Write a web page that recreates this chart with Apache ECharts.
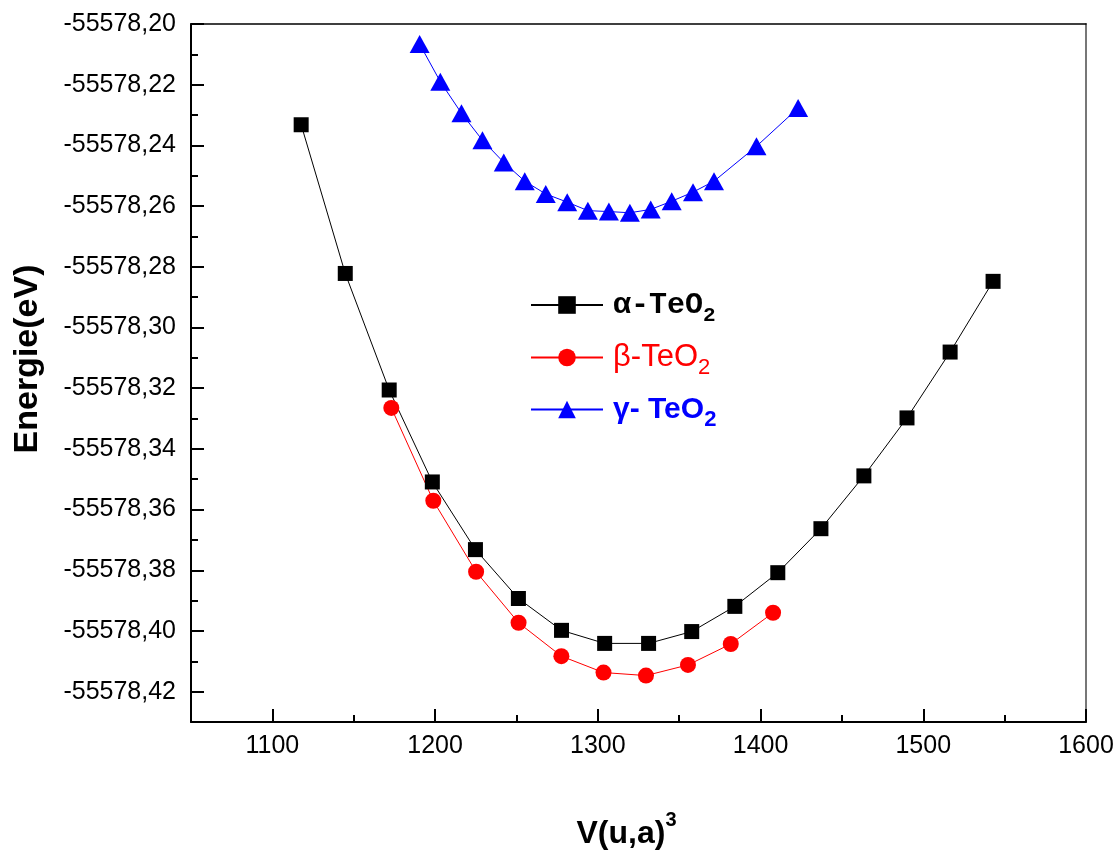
<!DOCTYPE html>
<html lang="en">
<head>
    <meta charset="UTF-8">
    <title>Energie vs V(u,a)3 - TeO2</title>
    <style>
        html, body { margin: 0; padding: 0; background: #fff; }
        #chart { width: 1120px; height: 855px; }
    </style>
</head>
<body>
<div id="chart"></div>
<script src="https://cdn.jsdelivr.net/npm/echarts@6/dist/echarts.min.js"></script>
<script>
    // alpha-TeO2
    const alphaV = [1117.7, 1144.8, 1171.8, 1198.3, 1224.8, 1251.2, 1277.7, 1304.2, 1331.2, 1357.7, 1384.2, 1410.6, 1437.1, 1463.5, 1490.0, 1516.5, 1542.9];
    const alphaE = [-55578.2332, -55578.2822, -55578.3206, -55578.3509, -55578.3732, -55578.3893, -55578.3998, -55578.4041, -55578.4041, -55578.4002, -55578.3919, -55578.3808, -55578.3663, -55578.3489, -55578.3298, -55578.3081, -55578.2848];

    // beta-TeO2
    const betaV = [1173.1, 1198.9, 1225.2, 1251.3, 1277.6, 1303.5, 1329.6, 1355.4, 1381.7, 1407.7];
    const betaE = [-55578.3265, -55578.3571, -55578.3805, -55578.3973, -55578.4083, -55578.4137, -55578.4147, -55578.4112, -55578.4043, -55578.3940];

    // gamma-TeO2
    const gammaV = [1190.5, 1203.2, 1216.2, 1229.1, 1242.2, 1255.1, 1268.0, 1281.2, 1293.9, 1306.8, 1319.7, 1332.5, 1345.4, 1358.5, 1371.4, 1397.5, 1423.1];
    const gammaE = [-55578.2066, -55578.2190, -55578.2294, -55578.2383, -55578.2456, -55578.2518, -55578.2560, -55578.2587, -55578.2615, -55578.2618, -55578.2622, -55578.2611, -55578.2584, -55578.2554, -55578.2518, -55578.2403, -55578.2277];

    const xTicks = [1100, 1200, 1300, 1400, 1500, 1600];
    const yTicks = [-55578.42, -55578.40, -55578.38, -55578.36, -55578.34, -55578.32, -55578.30, -55578.28, -55578.26, -55578.24, -55578.22, -55578.20];

    const seriesNames = ['alpha', 'beta', 'gamma'];

    const pairs = (xs, ys) => xs.map((x, i) => [x, ys[i]]);

    const chart = echarts.init(document.getElementById('chart'));

    const font = '"Liberation Sans", Arial, sans-serif';
    const mono = '"Liberation Mono", "Courier New", monospace';
    const yMin = -55578.43, yMax = -55578.20;

    const option = {
        animation: false,
        backgroundColor: '#fff',
        textStyle: { fontFamily: font },
        grid: { left: 191, right: 34, top: 24, bottom: 132, containLabel: false },
        legend: {
            left: 530,
            top: 290,
            padding: 0,
            orient: 'vertical',
            itemWidth: 72,
            itemHeight: 22,
            itemGap: 16,
            data: seriesNames,
            formatter: function (name) {
                if (name === 'alpha') return '{a1|\u03b1-TeO}{a2|2}';
                if (name === 'beta') return '{b1|\u03b2-TeO}{b2|2}';
                return '{c1|\u03b3- TeO}{c2|2}';
            },
            textStyle: {
                rich: {
                    a1: { fontFamily: mono, fontWeight: 'bold', fontSize: 30, color: '#000', lineHeight: 42, verticalAlign: 'middle', padding: [0, 0, 0, 5] },
                    a2: { fontFamily: mono, fontWeight: 'bold', fontSize: 21, color: '#000', lineHeight: 20, verticalAlign: 'bottom' },
                    b1: { fontFamily: font, fontSize: 31, color: '#ff0000', lineHeight: 42, verticalAlign: 'middle', padding: [0, 0, 0, 5] },
                    b2: { fontFamily: font, fontSize: 22, color: '#ff0000', lineHeight: 20, verticalAlign: 'bottom' },
                    c1: { fontFamily: font, fontWeight: 'bold', fontSize: 30, color: '#0000ff', lineHeight: 42, verticalAlign: 'middle', padding: [0, 0, 0, 5] },
                    c2: { fontFamily: font, fontWeight: 'bold', fontSize: 22, color: '#0000ff', lineHeight: 20, verticalAlign: 'bottom' }
                }
            }
        },
        xAxis: [{
            type: 'value',
            min: 1050,
            max: 1600,
            interval: 50,
            name: '{m|V(u,a)}{s|3}',
            nameLocation: 'middle',
            nameGap: 88,
            nameTextStyle: {
                padding: [0, 24, 0, 0],
                rich: {
                    m: { fontFamily: font, fontWeight: 'bold', fontSize: 32, color: '#000', lineHeight: 40, verticalAlign: 'bottom' },
                    s: { fontFamily: font, fontWeight: 'bold', fontSize: 20, color: '#000', lineHeight: 40, verticalAlign: 'top' }
                }
            },
            axisLine: { onZero: false, lineStyle: { color: '#000', width: 2 } },
            axisTick: { inside: true, length: 7, lineStyle: { color: '#000', width: 2 } },
            axisLabel: {
                customValues: xTicks,
                margin: 12,
                fontSize: 25,
                color: '#000',
                fontFamily: font,
                formatter: v => String(v)
            },
            splitLine: { show: false }
        }, {
            type: 'value',
            min: 1050,
            max: 1600,
            position: 'bottom',
            axisLine: { show: false },
            axisTick: { inside: true, length: 13, customValues: xTicks, lineStyle: { color: '#000', width: 2 } },
            axisLabel: { show: false },
            splitLine: { show: false }
        }, {
            type: 'value',
            min: 1050,
            max: 1600,
            position: 'top',
            axisLine: { onZero: false, lineStyle: { color: '#000', width: 1.5 } },
            axisTick: { show: false },
            axisLabel: { show: false },
            splitLine: { show: false }
        }],
        yAxis: [{
            type: 'value',
            min: yMin,
            max: yMax,
            interval: 0.01,
            name: 'Energie(eV)',
            nameLocation: 'middle',
            nameGap: 146,
            nameRotate: 90,
            nameTextStyle: { fontFamily: font, fontWeight: 'bold', fontSize: 34, color: '#000', padding: [0, 0, 0, 28] },
            axisLine: { onZero: false, lineStyle: { color: '#000', width: 2 } },
            axisTick: { inside: true, length: 7, lineStyle: { color: '#000', width: 2 } },
            axisLabel: {
                customValues: yTicks,
                margin: 15,
                fontSize: 25,
                color: '#000',
                fontFamily: font,
                formatter: v => v.toFixed(2).replace('.', ',')
            },
            splitLine: { show: false }
        }, {
            type: 'value',
            min: yMin,
            max: yMax,
            position: 'left',
            axisLine: { show: false },
            axisTick: { inside: true, length: 13, customValues: yTicks, lineStyle: { color: '#000', width: 2 } },
            axisLabel: { show: false },
            splitLine: { show: false }
        }, {
            type: 'value',
            min: yMin,
            max: yMax,
            position: 'right',
            axisLine: { onZero: false, lineStyle: { color: '#777', width: 2 } },
            axisTick: { show: false },
            axisLabel: { show: false },
            splitLine: { show: false }
        }],
        series: [{
            name: 'alpha',
            type: 'line',
            data: pairs(alphaV, alphaE),
            symbol: 'rect',
            symbolSize: 15,
            color: '#000',
            itemStyle: { color: '#000' },
            lineStyle: { color: '#000', width: 1 }
        }, {
            name: 'beta',
            type: 'line',
            data: pairs(betaV, betaE),
            symbol: 'circle',
            symbolSize: 16,
            color: '#ff0000',
            itemStyle: { color: '#ff0000' },
            lineStyle: { color: '#ff0000', width: 1 }
        }, {
            name: 'gamma',
            type: 'line',
            data: pairs(gammaV, gammaE),
            symbol: 'triangle',
            symbolSize: [20, 18],
            color: '#0000ff',
            itemStyle: { color: '#0000ff' },
            lineStyle: { color: '#0000ff', width: 1 }
        }]
    };

    chart.setOption(option);
</script>
</body>
</html>
